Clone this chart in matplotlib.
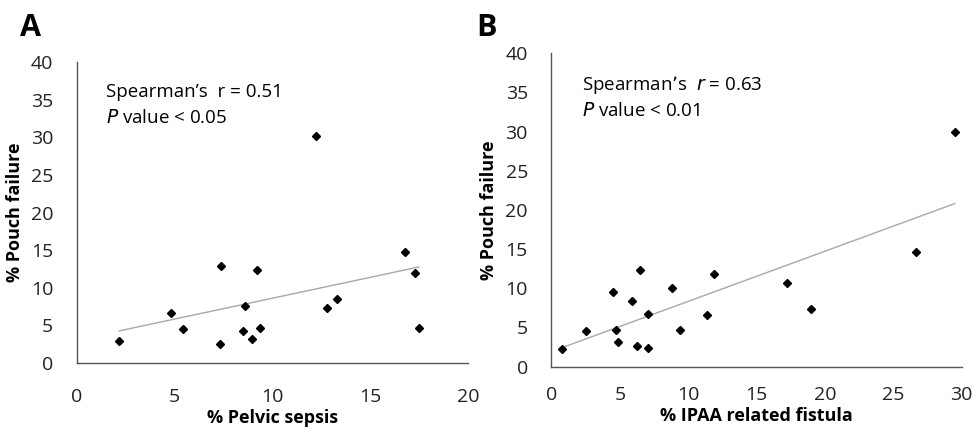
import numpy as np
import matplotlib.pyplot as plt

plt.rcParams['font.family'] = ['Open Sans', 'DejaVu Sans']

# panel A: % pelvic sepsis vs % pouch failure
sepsis = [2.16, 4.81, 5.42, 7.38, 7.31, 8.47, 8.61, 8.97, 9.19, 9.38,
          12.21, 12.79, 13.28, 16.8, 17.29, 17.49]
failure_a = [2.96, 6.68, 4.56, 12.88, 2.52, 4.21, 7.53, 3.19, 12.31, 4.65,
             30.1, 7.3, 8.46, 14.8, 11.9, 4.65]

# panel B: % IPAA related fistula vs % pouch failure
fistula = [0.80, 2.50, 4.47, 4.71, 4.88, 5.88, 6.29, 6.46, 7.09, 7.09,
           8.79, 9.37, 11.36, 11.87, 17.24, 18.96, 26.7, 29.5]
failure_b = [2.26, 4.52, 9.54, 4.65, 3.12, 8.43, 2.68, 12.3, 6.73, 2.35,
             10.09, 4.65, 6.6, 11.8, 10.7, 7.4, 14.7, 30.0]

fig = plt.figure(figsize=(9.73, 4.29), dpi=100)
axA = fig.add_axes([0.0791, 0.1538, 0.4019, 0.7017])
axB = fig.add_axes([0.5668, 0.1453, 0.4214, 0.7304])


def panel(ax, x, y, xmax, xticks, xlabel, r_text, p_text, xpad):
    k, b = np.polyfit(x, y, 1)
    xs = np.array([min(x), max(x)])
    ax.plot(xs, k * xs + b, color='#a8a8a8', lw=1, zorder=1)
    ax.plot(x, y, 'D', color='black', ms=4.5, zorder=2)
    ax.set_xlim(0, xmax)
    ax.set_ylim(0, 40)
    ax.set_xticks(xticks)
    ax.set_yticks(range(0, 41, 5))
    for s in ['top', 'right']:
        ax.spines[s].set_visible(False)
    for s in ['left', 'bottom']:
        ax.spines[s].set_color('#555555')
        ax.spines[s].set_linewidth(1)
    ax.tick_params(length=0, labelsize=14, colors='#222222')
    ax.tick_params(axis='y', pad=17)
    ax.tick_params(axis='x', pad=xpad)
    ax.set_xlabel(xlabel, fontsize=13, fontweight='bold', labelpad=2)
    ax.set_ylabel('% Pouch failure', fontsize=13, fontweight='bold', labelpad=5)
    ax.text(0.075, 0.9, r_text, transform=ax.transAxes, fontsize=13.5,
            va='center', ha='left')
    ax.text(0.075, 0.815, p_text, transform=ax.transAxes, fontsize=13.5,
            va='center', ha='left')


panel(axA, sepsis, failure_a, 20, range(0, 21, 5), '% Pelvic sepsis',
      'Spearman\u2019s  r = 0.51', '$\\it{P}$ value < 0.05', 18)
panel(axB, fistula, failure_b, 30, range(0, 31, 5), '% IPAA related fistula',
      'Spearman\u2019s  $\\it{r}$ = 0.63', '$\\it{P}$ value < 0.01', 14)

fig.text(0.021, 0.935, 'A', fontsize=22, fontweight='bold', va='center')
fig.text(0.489, 0.935, 'B', fontsize=22, fontweight='bold', va='center')

fig.savefig('out.png', dpi=100)
